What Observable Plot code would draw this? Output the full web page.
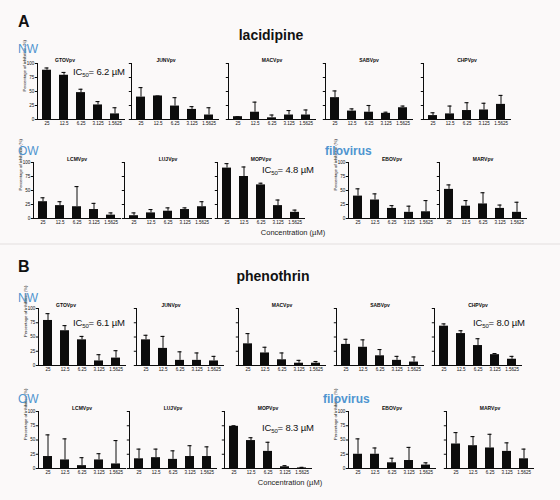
<!DOCTYPE html>
<html>
<head>
<meta charset="utf-8">
<script src="https://cdn.jsdelivr.net/npm/d3@7"></script>
<script src="https://cdn.jsdelivr.net/npm/@observablehq/plot@0.6"></script>
<style>
  body { margin: 0; background: #ffffff; }
  #root { position: relative; width: 560px; height: 500px; background: #fbf9f9; overflow: hidden;
          font-family: "Liberation Sans", Arial, sans-serif; }
  .cell { position: absolute; }
  .cell svg { display: block; }
  #overlay { position: absolute; left: 0; top: 0; pointer-events: none; }
</style>
</head>
<body>
<div id="root"></div>
<script>
// ---------------- DATA ----------------
const concentrations = ["25", "12.5", "6.25", "3.125", "1.5625"];
const yTicks = [0, 25, 50, 75, 100];
const virusNames = ["GTOVpv", "JUNVpv", "MACVpv", "SABVpv", "CHPVpv",
                    "LCMVpv", "LUJVpv", "MOPVpv", "EBOVpv", "MARVpv"];
const groupLabels = ["NW", "OW", "filovirus"];
const drugNames = ["lacidipine", "phenothrin"];
const panelLetters = ["A", "B"];
const axisLabelY = "Percentage of inhibition (%)";
const axisLabelX = "Concentration (µM)";

// mean % inhibition (bar height), one row per virus in virusNames order
const lacidipineMean = [
  [88, 79, 48, 26, 10],
  [40, 42, 24, 18, 8],
  [5, 13, 3, 8, 8],
  [39, 15, 13, 11, 21],
  [7, 10, 16, 17, 27],
  [30, 23, 21, 16, 6],
  [5, 10, 13, 16, 21],
  [90, 75, 60, 23, 11],
  [40, 33, 18, 11, 12],
  [52, 22, 26, 18, 11]
];
// upper end of error bar
const lacidipineUpper = [
  [92, 84, 54, 32, 21],
  [57, 42, 39, 23, 21],
  [5, 31, 8, 16, 17],
  [51, 19, 25, 13, 24],
  [12, 24, 30, 29, 43],
  [37, 30, 57, 27, 10],
  [10, 16, 19, 19, 30],
  [98, 92, 63, 33, 15],
  [53, 44, 23, 22, 32],
  [60, 32, 46, 24, 29]
];
const phenothrinMean = [
  [79, 61, 45, 8, 13],
  [45, 30, 9, 9, 8],
  [38, 22, 10, 4, 4],
  [37, 32, 17, 9, 6],
  [69, 56, 35, 19, 11],
  [21, 15, 5, 15, 8],
  [17, 19, 16, 21, 21],
  [74, 49, 30, 3, 1],
  [25, 25, 10, 14, 6],
  [43, 40, 36, 30, 17]
];
const phenothrinUpper = [
  [91, 70, 51, 19, 26],
  [53, 51, 24, 22, 16],
  [56, 32, 22, 9, 7],
  [46, 45, 28, 16, 15],
  [73, 61, 47, 21, 16],
  [59, 52, 19, 26, 49],
  [34, 34, 31, 40, 38],
  [75, 54, 46, 5, 2],
  [52, 36, 18, 37, 10],
  [63, 56, 60, 45, 34]
];
const lacidipineIC50Virus = ["GTOVpv", "MOPVpv"];
const lacidipineIC50 = [6.2, 4.8];
const phenothrinIC50Virus = ["GTOVpv", "CHPVpv", "MOPVpv"];
const phenothrinIC50 = [6.1, 8.0, 8.3];

const labeledCharts = ["GTOVpv", "LCMVpv", "EBOVpv"];

// ---------------- LAYOUT ----------------
const panels = [
  {
    mean: lacidipineMean, upper: lacidipineUpper,
    icVirus: lacidipineIC50Virus, ic: lacidipineIC50,
    icPos: [[73, 75], [262, 173]],
    rows: [{ top: 63, h: 56, xs: [37, 131, 228, 325, 423] },
           { top: 162, h: 56, xs: [33, 124, 217, 348, 439] }],
    letter: [18, 27], drug: [271, 40],
    groups: [[18, 53], [18, 155], [325, 155]],
    conc: [293, 235]
  },
  {
    mean: phenothrinMean, upper: phenothrinUpper,
    icVirus: phenothrinIC50Virus, ic: phenothrinIC50,
    icPos: [[73, 326], [473, 326], [262, 431]],
    rows: [{ top: 308, h: 57, xs: [38, 136, 238, 336, 434] },
           { top: 411, h: 57, xs: [38, 129, 224, 348, 446] }],
    letter: [18, 272], drug: [273, 281],
    groups: [[18, 302], [18, 403], [323, 403]],
    conc: [290, 485]
  }
];
const titleShift = { GTOVpv: -16, JUNVpv: -9 };

const PW = 87, ML = 24, MR = 6, MT = 10, MB = 10;
const INK = "#0c0c0c";
const FONT = "'Liberation Sans', Arial, sans-serif";

function chart(name, mean, upper, h) {
  const data = concentrations.map((c, i) => ({ c, v: mean[i], e: upper[i] }));
  const labeled = labeledCharts.includes(name);
  return Plot.plot({
    width: ML + PW + MR, height: MT + h + MB,
    marginLeft: ML, marginRight: MR, marginTop: MT, marginBottom: MB,
    x: { domain: concentrations, paddingInner: 0.45, paddingOuter: 0.2 },
    y: { domain: [0, 100] },
    style: { background: "none", fontFamily: FONT, fontSize: "4.5px", color: INK, overflow: "visible" },
    marks: [
      Plot.barY(data, { x: "c", y: "v", fill: INK }),
      Plot.ruleX(data, { x: "c", y1: "v", y2: "e", stroke: INK, strokeWidth: 1 }),
      Plot.tickY(data, { x: "c", y: "e", stroke: INK, strokeWidth: 1.1, insetLeft: 2.5, insetRight: 2.5 }),
      Plot.axisX({ tickSize: 0, tickPadding: 2.5, label: null, fontSize: 4.5 }),
      Plot.axisY({ ticks: yTicks, tickSize: 2.2, tickPadding: 1, label: null, fontSize: 4.5,
                   tickFormat: labeled ? (d => String(d)) : (() => "") }),
      Plot.frame({ anchor: "left", stroke: INK }),
      Plot.frame({ anchor: "bottom", stroke: INK }),
      Plot.text([name], { text: d => d, frameAnchor: "top", dy: -5, dx: titleShift[name] || 0,
                          fontSize: 5, fontWeight: "bold" }),
      labeled ? Plot.text([axisLabelY], { text: d => d, frameAnchor: "left", rotate: -90, dx: -13, fontSize: 4.2 }) : null
    ]
  });
}

const root = document.getElementById("root");

panels.forEach((p, pi) => {
  p.rows.forEach((row, ri) => {
    row.xs.forEach((ax, ci) => {
      const vi = ri * 5 + ci;
      const name = virusNames[vi];
      const div = document.createElement("div");
      div.className = "cell";
      div.style.left = (ax - ML) + "px";
      div.style.top = (row.top - MT) + "px";
      div.style.width = (ML + PW + MR) + "px";
      div.appendChild(chart(name, p.mean[vi], p.upper[vi], row.h));
      root.appendChild(div);
    });
  });
});

// ---------------- TEXT OVERLAY ----------------
const svg = d3.select(root).append("svg").attr("id", "overlay")
  .attr("width", 560).attr("height", 500).style("font-family", FONT);

svg.append("line").attr("x1", 0).attr("x2", 560).attr("y1", 244).attr("y2", 244)
  .attr("stroke", "#e4dfdf").attr("stroke-width", 1.2);

panels.forEach((p, pi) => {
  svg.append("text").attr("x", p.letter[0]).attr("y", p.letter[1])
    .attr("font-size", 16).attr("font-weight", "bold").attr("fill", "#111").text(panelLetters[pi]);
  svg.append("text").attr("x", p.drug[0]).attr("y", p.drug[1]).attr("text-anchor", "middle")
    .attr("font-size", 14).attr("font-weight", "bold").attr("fill", "#111").text(drugNames[pi]);
  groupLabels.forEach((g, gi) => {
    svg.append("text").attr("x", p.groups[gi][0]).attr("y", p.groups[gi][1])
      .attr("font-size", 12).attr("font-weight", gi === 2 ? "bold" : "normal")
      .attr("fill", "#4f95d0").text(g);
  });
  svg.append("text").attr("x", p.conc[0]).attr("y", p.conc[1]).attr("text-anchor", "middle")
    .attr("font-size", 7.5).attr("fill", "#222").text(axisLabelX);
  p.ic.forEach((v, k) => {
    const t = svg.append("text").attr("x", p.icPos[k][0]).attr("y", p.icPos[k][1])
      .attr("font-size", 9.5).attr("letter-spacing", -0.15).attr("fill", "#111");
    t.append("tspan").text("IC");
    t.append("tspan").attr("font-size", 6).attr("dy", 2).text("50");
    t.append("tspan").attr("dy", -2).text("= " + v.toFixed(1) + " µM");
  });
});
</script>
</body>
</html>
